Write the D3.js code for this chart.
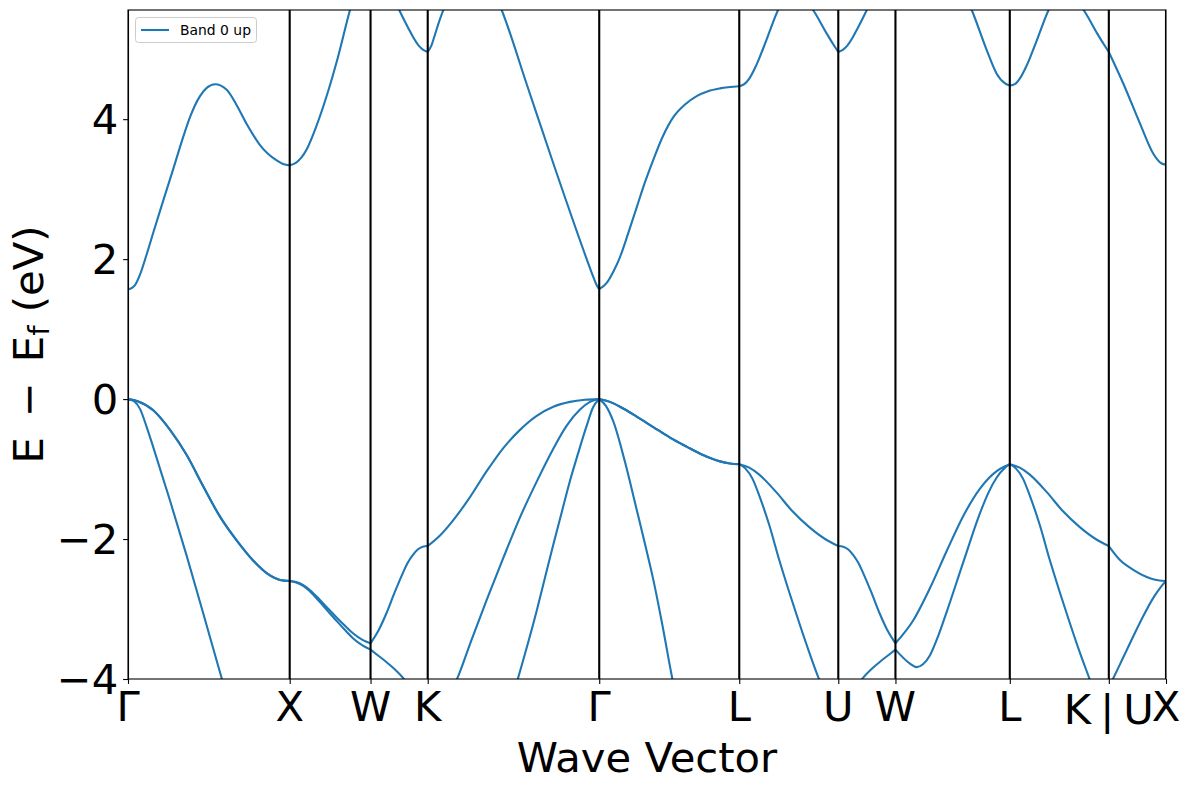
<!DOCTYPE html>
<html>
<head>
<meta charset="utf-8">
<script src="https://cdn.jsdelivr.net/npm/d3@7"></script>
<style>
  html, body { margin: 0; padding: 0; background: #fff; }
  svg text { font-family: "DejaVu Sans", sans-serif; }
</style>
</head>
<body>
<svg id="chart" width="1189" height="790"></svg>
<script>
// ---------------- data ----------------
// high-symmetry points along the path (k distance, 2π/a units)
const kTicks  = [0, 1, 1.5, 1.8536, 2.9142, 3.7802, 4.3926, 4.7462, 5.4533, 6.0657, 6.4193];
const kLabels = ["Γ", "X", "W", "K", "Γ", "L", "U", "W", "L", "K|U", "X"];
const yTicks  = [-4, -2, 0, 2, 4];
const yRange  = [-4, 5.56];
const legendLabel = "Band 0 up";

// lowest conduction band  [k, E - Ef (eV)]
const bandC = [
  [0,1.57],[0.0247,1.59],[0.0433,1.63],[0.0742,1.78],[0.1156,2.07],[0.1565,2.38],[0.2183,2.84],[0.2801,3.29],[0.3321,3.68],[0.3834,4.03],[0.4453,4.33],[0.4886,4.45],[0.5380,4.50],[0.6104,4.42],[0.6722,4.20],[0.7341,3.93],[0.8163,3.63],[0.9196,3.41],[0.9586,3.36],[1.0,3.34],
  [1.04,3.38],[1.103,3.56],[1.165,3.90],[1.227,4.32],[1.30,4.90],[1.373,5.56],[1.44,6.05],[1.5,6.3],
  [1.5753,6.1],[1.6773,5.56],[1.7361,5.29],[1.7639,5.17],[1.7979,5.05],[1.8258,4.99],[1.8536,4.96],
  [1.876,5.05],[1.90,5.22],[1.925,5.40],[1.950,5.56],[2.13,6.4],[2.311,5.56],[2.470,4.47],[2.630,3.37],[2.8367,2.00],[2.8571,1.87],[2.8819,1.72],[2.9004,1.62],[2.9142,1.57],
  [2.9604,1.66],[3.0012,1.82],[3.0427,2.03],[3.0921,2.36],[3.1459,2.74],[3.1973,3.10],[3.2486,3.42],[3.3086,3.76],[3.3723,4.03],[3.4447,4.21],[3.5170,4.33],[3.5869,4.40],[3.6611,4.44],[3.7802,4.47],
  [3.8111,4.50],[3.8420,4.58],[3.8730,4.71],[3.9039,4.87],[3.9348,5.05],[3.9657,5.24],[4.0202,5.56],[4.1203,5.85],[4.2366,5.56],[4.3195,5.23],[4.3615,5.07],[4.3926,4.96],
  [4.4204,4.99],[4.4483,5.05],[4.4823,5.17],[4.5101,5.29],[4.5689,5.56],[4.6709,6.1],[4.7462,6.3],
  [4.95,6.5],[5.1,6.1],[5.218,5.56],[5.310,4.99],[5.372,4.65],[5.424,4.51],[5.4533,4.48],
  [5.4842,4.50],[5.5151,4.58],[5.5461,4.71],[5.5770,4.87],[5.6079,5.05],[5.6388,5.24],[5.6933,5.56],[5.7934,5.85],[5.9097,5.56],[5.9926,5.23],[6.0346,5.07],[6.0657,4.96],
  [6.155,4.51],[6.258,3.94],[6.340,3.51],[6.39,3.37],[6.4193,3.35]
];

// top valence band
const bandV1 = [
  [0,0],[0.06,-0.03],[0.156,-0.16],[0.26,-0.44],[0.363,-0.80],[0.466,-1.25],[0.569,-1.68],[0.672,-2.02],[0.775,-2.31],[0.878,-2.52],[0.94,-2.585],[1.0,-2.60],
  [1.04,-2.615],[1.084,-2.66],[1.135,-2.75],[1.187,-2.87],[1.24,-3.00],[1.29,-3.12],[1.342,-3.24],[1.393,-3.35],[1.45,-3.44],[1.5,-3.49],
  [1.5506,-3.30],[1.5982,-3.06],[1.6495,-2.76],[1.6990,-2.49],[1.7299,-2.34],[1.7608,-2.23],[1.7918,-2.15],[1.8227,-2.11],[1.8536,-2.10],
  [1.9295,-1.95],[2.0117,-1.73],[2.1150,-1.40],[2.2183,-1.03],[2.3210,-0.70],[2.4242,-0.44],[2.5275,-0.24],[2.6302,-0.11],[2.7335,-0.04],[2.8262,-0.01],[2.9142,0],
  [2.9808,-0.04],[3.0427,-0.11],[3.1459,-0.25],[3.2486,-0.40],[3.3519,-0.55],[3.4551,-0.68],[3.5560,-0.80],[3.6611,-0.89],[3.7230,-0.92],[3.7802,-0.93],
  [3.8420,-0.98],[3.9039,-1.08],[4.0090,-1.33],[4.1080,-1.60],[4.2131,-1.83],[4.3182,-2.01],[4.3926,-2.10],
  [4.4235,-2.11],[4.4544,-2.15],[4.4854,-2.23],[4.5163,-2.34],[4.5472,-2.49],[4.5967,-2.76],[4.6480,-3.06],[4.6956,-3.30],[4.7462,-3.49],
  [4.8565,-3.16],[4.9598,-2.70],[5.0631,-2.17],[5.1657,-1.67],[5.2690,-1.28],[5.3723,-1.03],[5.4236,-0.96],[5.4533,-0.93],
  [5.5151,-0.98],[5.5770,-1.08],[5.6821,-1.33],[5.7811,-1.60],[5.8862,-1.83],[5.9913,-2.01],[6.0657,-2.10],
  [6.1348,-2.30],[6.2171,-2.44],[6.3203,-2.56],[6.3700,-2.59],[6.4193,-2.60]
];

// second valence band (a repeated k marks a jump at K|U)
const bandV2 = [
  [0,0],[0.06,-0.03],[0.156,-0.16],[0.26,-0.44],[0.363,-0.80],[0.466,-1.25],[0.569,-1.68],[0.672,-2.02],[0.775,-2.31],[0.878,-2.52],[0.94,-2.585],[1.0,-2.60],
  [1.04,-2.62],[1.084,-2.67],[1.135,-2.77],[1.187,-2.90],[1.24,-3.04],[1.29,-3.17],[1.342,-3.30],[1.393,-3.42],[1.45,-3.52],[1.5,-3.58],
  [1.5444,-3.66],[1.5939,-3.75],[1.6495,-3.86],[1.7033,-3.99],[1.7794,-4.25],[1.8536,-4.5],
  [2.0328,-4.01],[2.1150,-3.50],[2.2183,-2.87],[2.3210,-2.27],[2.4242,-1.69],[2.5275,-1.18],[2.6302,-0.71],[2.7130,-0.38],[2.7953,-0.15],[2.8571,-0.04],[2.9142,0],
  [2.9808,-0.04],[3.0427,-0.11],[3.1459,-0.25],[3.2486,-0.40],[3.3519,-0.55],[3.4551,-0.68],[3.5560,-0.80],[3.6611,-0.89],[3.7230,-0.92],[3.7802,-0.93],
  [3.8173,-0.99],[3.8625,-1.14],[3.9039,-1.38],[3.9657,-1.80],[4.0276,-2.30],[4.0894,-2.76],[4.1513,-3.20],[4.2131,-3.62],[4.2719,-3.99],[4.3926,-4.5],
  [4.4668,-4.25],[4.5429,-3.99],[4.5967,-3.86],[4.6523,-3.75],[4.7018,-3.66],[4.7462,-3.58],
  [4.8360,-3.78],[4.8770,-3.83],[4.9165,-3.79],[4.9598,-3.66],[5.0114,-3.38],[5.0631,-3.04],[5.1657,-2.33],[5.2690,-1.63],[5.3206,-1.34],[5.3723,-1.12],[5.4236,-0.98],[5.4533,-0.93],
  [5.4904,-0.99],[5.5356,-1.14],[5.5770,-1.38],[5.6388,-1.80],[5.7007,-2.30],[5.7625,-2.76],[5.8244,-3.20],[5.8862,-3.62],[5.9450,-3.99],[6.0657,-4.75],
  [6.0657,-4.12],[6.0933,-3.99],[6.1552,-3.69],[6.2171,-3.39],[6.2789,-3.10],[6.3408,-2.84],[6.3822,-2.70],[6.4193,-2.60]
];

// third valence band
const bandV3 = [
  [0,0],[0.0371,-0.03],[0.0742,-0.14],[0.1156,-0.40],[0.1565,-0.69],[0.2597,-1.45],[0.3630,-2.24],[0.4700,-3.10],[0.5795,-3.99],[0.75,-5.3],[1.0,-6.2],
  [1.5,-6.6],[1.8536,-6.3],
  [2.2,-5.4],[2.404,-4.05],[2.466,-3.55],[2.528,-3.02],[2.579,-2.55],[2.630,-2.08],[2.682,-1.62],[2.733,-1.17],[2.783,-0.78],[2.8367,-0.38],[2.8757,-0.12],[2.9142,0],
  [2.9566,-0.10],[3.0013,-0.32],[3.0736,-0.90],[3.1459,-1.58],[3.1973,-2.07],[3.2486,-2.58],[3.3024,-3.20],[3.3624,-3.95],[3.45,-4.9],[3.7802,-5.8],
  [4.3926,-6.3],[4.7462,-6.6],[5.4533,-5.8],[6.0657,-6.3],[6.4193,-6.2]
];

const bands = [bandC, bandV1, bandV2, bandV3];

// ---------------- layout ----------------
const M = {left: 128, top: 10, right: 1166, bottom: 679};
const bandColor = "#1f77b4";
const fontBig = 41.7;

const svg = d3.select("#chart");

const x = d3.scaleLinear().domain([kTicks[0], kTicks[kTicks.length-1]]).range([M.left, M.right]);
const y = d3.scaleLinear().domain(yRange).range([M.bottom, M.top]);

svg.append("defs").append("clipPath").attr("id", "plotclip")
  .append("rect").attr("x", M.left).attr("y", M.top)
  .attr("width", M.right - M.left).attr("height", M.bottom - M.top);

const plot = svg.append("g").attr("clip-path", "url(#plotclip)");

const line = d3.line().x(d => x(d[0])).y(d => y(d[1])).curve(d3.curveMonotoneX);

const isTick = k => kTicks.some(t => Math.abs(t - k) < 1e-6);

// split a band into branches between successive high-symmetry points
function branches(band) {
  const out = [];
  let cur = [];
  band.forEach((p, i) => {
    cur.push(p);
    if (isTick(p[0]) && cur.length > 1) {
      out.push(cur);
      const nxt = band[i + 1];
      cur = (nxt && Math.abs(nxt[0] - p[0]) < 1e-6) ? [] : [p];
    }
  });
  return out;
}

bands.forEach(band => {
  branches(band).forEach(seg => {
    plot.append("path").attr("d", line(seg))
      .attr("fill", "none").attr("stroke", bandColor)
      .attr("stroke-width", 2.1).attr("stroke-linejoin", "round");
  });
});

// vertical lines at high-symmetry points
plot.selectAll("line.vl").data(kTicks).enter().append("line")
  .attr("class", "vl")
  .attr("x1", d => x(d)).attr("x2", d => x(d))
  .attr("y1", M.top).attr("y2", M.bottom)
  .attr("stroke", "#000").attr("stroke-width", 2.1);

// axes ticks
const xAxis = d3.axisBottom(x).tickValues(kTicks).tickFormat(() => "").tickSizeInner(4.9).tickSizeOuter(0);
const gx = svg.append("g").attr("transform", `translate(0,${M.bottom})`).call(xAxis);
gx.select(".domain").remove();
gx.selectAll(".tick line").attr("stroke", "#000").attr("stroke-width", 1.1);

const yAxis = d3.axisLeft(y).tickValues(yTicks).tickFormat(() => "").tickSizeInner(4.9).tickSizeOuter(0);
const gy = svg.append("g").attr("transform", `translate(${M.left},0)`).call(yAxis);
gy.select(".domain").remove();
gy.selectAll(".tick line").attr("stroke", "#000").attr("stroke-width", 1.1);

// y tick labels
svg.append("g").selectAll("text").data(yTicks).enter().append("text")
  .attr("x", M.left - 9.8).attr("y", d => y(d)).attr("dy", "0.36em")
  .attr("text-anchor", "end").attr("font-size", fontBig).attr("fill", "#000")
  .text(d => d < 0 ? "\u2212" + Math.abs(d) : String(d));

// x tick labels
const xl = svg.append("g");
kTicks.forEach((k, i) => {
  const lab = kLabels[i];
  if (lab.includes("|")) {
    const parts = lab.split("|");
    const t = xl.append("text").attr("x", x(k)).attr("y", 724)
      .attr("text-anchor", "middle").attr("font-size", fontBig).attr("fill", "#000");
    t.append("tspan").text(parts[0]);
    t.append("tspan").attr("dx", 9).text("|");
    t.append("tspan").attr("dx", 9).text(parts[1]);
  } else {
    xl.append("text").attr("x", x(k)).attr("y", 721)
      .attr("text-anchor", "middle").attr("font-size", fontBig).attr("fill", "#000")
      .text(lab);
  }
});

// frame
svg.append("rect").attr("x", M.left).attr("y", M.top)
  .attr("width", M.right - M.left).attr("height", M.bottom - M.top)
  .attr("fill", "none").attr("stroke", "#000").attr("stroke-width", 1.1);

// axis labels
svg.append("text").attr("x", (M.left + M.right) / 2).attr("y", 772)
  .attr("text-anchor", "middle").attr("font-size", fontBig).attr("fill", "#000")
  .text("Wave Vector");

const yl = svg.append("text")
  .attr("transform", `translate(43,${(M.top + M.bottom) / 2}) rotate(-90)`)
  .attr("text-anchor", "middle").attr("font-size", fontBig).attr("fill", "#000");
yl.append("tspan").text("E");
yl.append("tspan").attr("dx", 20).text("\u2212");
yl.append("tspan").attr("dx", 20).text("E");
yl.append("tspan").attr("font-size", fontBig * 0.7).attr("dy", 6).text("f");
yl.append("tspan").attr("dy", -6).text(" (eV)");

// legend
const lg = svg.append("g");
lg.append("rect").attr("x", 135.5).attr("y", 17.5).attr("width", 121).attr("height", 25).attr("rx", 3)
  .attr("fill", "#fff").attr("fill-opacity", 0.8).attr("stroke", "#cccccc").attr("stroke-width", 1);
lg.append("line").attr("x1", 141).attr("x2", 169).attr("y1", 30).attr("y2", 30)
  .attr("stroke", bandColor).attr("stroke-width", 2.1);
lg.append("text").attr("x", 180).attr("y", 35).attr("font-size", 13.9).attr("fill", "#000").text(legendLabel);
</script>
</body>
</html>
